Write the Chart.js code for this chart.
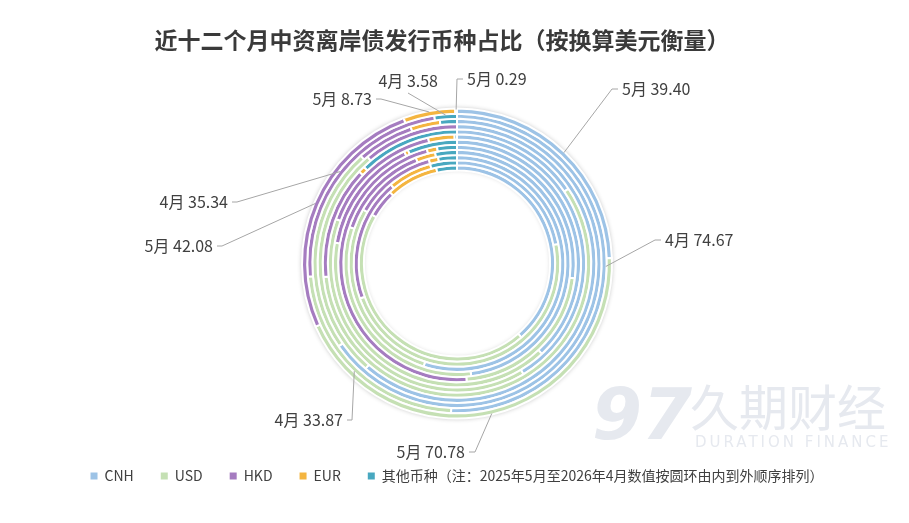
<!DOCTYPE html>
<html>
<head>
<meta charset="utf-8">
<script src="https://cdn.jsdelivr.net/npm/chart.js@4.4.1/dist/chart.umd.min.js"></script>
<style>
  html, body { margin: 0; padding: 0; background: #fff; }
  #wrap { width: 909px; height: 523px; }
</style>
</head>
<body>
<div id="wrap"><canvas id="chart" width="909" height="523"></canvas></div>
<script>
// rings from outer to inner
const months = ['5月', '4月', '3月', '2月', '1月', '12月', '11月', '10月', '9月', '8月', '7月', '6月'];
const currencies = ['CNH', 'USD', 'HKD', 'EUR', '其他币种'];
const note = '（注：2025年5月至2026年4月数值按圆环由内到外顺序排列）';

const cnh   = [39.40, 74.67, 65.3, 61.4, 15.6, 41.4, 38.0, 27.0, 48.0, 55.0, 22.0, 38.6];
const usd   = [70.78, 33.87, 23.1, 27.5, 57.8, 39.2, 39.7, 21.7, 32.2, 28.3, 47.5, 44.7];
const hkd   = [42.08, 35.34,  6.4, 11.1, 13.6, 15.8, 15.3, 47.2, 13.9, 12.5, 19.4,  4.7];
const eur   = [ 8.73,  0.00,  3.3,  0.0,  0.8,  3.3,  0.5,  1.4,  2.8,  1.4,  6.9,  8.6];
const other = [ 0.29,  3.58,  1.9,  0.0, 12.2,  0.3,  6.5,  2.7,  3.1,  2.8,  4.2,  3.4];

const colors = ['#9dc3e6', '#c5e0b4', '#a57cc0', '#f4b540', '#48a8c0'];
const FONT = '"Noto Sans CJK SC", "Noto Sans", sans-serif';

Chart.defaults.font.family = FONT;

// labels for the two outer rings: dataset, slice, text position, leader start
const callouts = [
  { ds: 0, i: 0, x: 622, y: 89,  align: 'left',  from: [618, 89],  elbow: [612, 89] },
  { ds: 1, i: 0, x: 665, y: 240, align: 'left',  from: [661, 240], elbow: [655, 240] },
  { ds: 0, i: 1, x: 465, y: 452, align: 'right', from: [469, 452], elbow: [475, 452] },
  { ds: 1, i: 1, x: 343, y: 420, align: 'right', from: [347, 420], elbow: [352, 420] },
  { ds: 0, i: 2, x: 213, y: 246, align: 'right', from: [217, 246], elbow: [222, 246] },
  { ds: 1, i: 2, x: 228, y: 202, align: 'right', from: [232, 202], elbow: [237, 202] },
  { ds: 0, i: 3, x: 372, y: 99,  align: 'right', from: [376, 99],  elbow: [381, 99] },
  { ds: 1, i: 4, x: 438, y: 81,  align: 'right', from: [408, 93],  elbow: [408, 93] },
  { ds: 0, i: 4, x: 467, y: 79,  align: 'left',  from: [463, 79],  elbow: [457, 79] }
];

const series = [cnh, usd, hkd, eur, other];
const datasets = months.map((m, r) => ({
  label: m,
  data: series.map(s => s[r]),
  backgroundColor: colors,
  borderColor: '#fff',
  borderWidth: 2
}));

const decor = {
  id: 'decor',
  beforeDraw(chart) {
    const ctx = chart.ctx;
    ctx.save();
    // watermark
    ctx.fillStyle = '#e6e9ef';
    ctx.font = 'italic bold 72px "DejaVu Sans"';
    ctx.textAlign = 'center';
    ctx.textBaseline = 'middle';
    ctx.fillText('97', 642, 420);
    ctx.font = '49px ' + FONT;
    ctx.textAlign = 'left';
    ctx.fillText('久期财经', 690, 407);
    ctx.font = '15px "DejaVu Sans"';
    ctx.letterSpacing = '3px';
    ctx.fillText('DURATION FINANCE', 695, 443);
    ctx.restore();
  },
  beforeDatasetsDraw(chart) {
    const ctx = chart.ctx;
    const outer = chart.getDatasetMeta(0).data[0];
    const inner = chart.getDatasetMeta(months.length - 1).data[0];
    const { x, y } = outer;
    ctx.save();
    ctx.shadowColor = 'rgba(0,0,0,0.3)';
    ctx.shadowBlur = 5;
    ctx.fillStyle = '#fff';
    ctx.beginPath();
    ctx.arc(x, y, outer.outerRadius, 0, Math.PI * 2);
    ctx.fill();
    ctx.restore();
    // soft shadow inside the hole
    ctx.save();
    ctx.beginPath();
    ctx.arc(x, y, inner.innerRadius, 0, Math.PI * 2);
    ctx.clip();
    ctx.shadowColor = 'rgba(0,0,0,0.25)';
    ctx.shadowBlur = 5;
    ctx.strokeStyle = '#fff';
    ctx.lineWidth = 6;
    ctx.beginPath();
    ctx.arc(x, y, inner.innerRadius + 4, 0, Math.PI * 2);
    ctx.stroke();
    ctx.restore();
  },
  afterDraw(chart) {
    const ctx = chart.ctx;
    ctx.save();
    ctx.fillStyle = '#3a3a3a';
    ctx.font = 'bold 23px ' + FONT;
    ctx.textAlign = 'center';
    ctx.textBaseline = 'middle';
    ctx.fillText('近十二个月中资离岸债发行币种占比（按换算美元衡量）', 442, 40);

    ctx.font = '16px ' + FONT;
    ctx.strokeStyle = '#a6a6a6';
    ctx.lineWidth = 1;
    callouts.forEach(c => {
      const arc = chart.getDatasetMeta(c.ds).data[c.i];
      const mid = (arc.startAngle + arc.endAngle) / 2;
      const ax = arc.x + Math.cos(mid) * (arc.outerRadius - 1);
      const ay = arc.y + Math.sin(mid) * (arc.outerRadius - 1);
      ctx.beginPath();
      ctx.moveTo(c.from[0], c.from[1]);
      ctx.lineTo(c.elbow[0], c.elbow[1]);
      ctx.lineTo(ax, ay);
      ctx.stroke();
      const val = series[c.i][c.ds];
      ctx.fillStyle = '#404040';
      ctx.textAlign = c.align;
      ctx.fillText(months[c.ds] + ' ' + val.toFixed(2), c.x, c.y);
    });
    ctx.restore();
  }
};

new Chart(document.getElementById('chart'), {
  type: 'doughnut',
  data: { labels: currencies, datasets },
  options: {
    responsive: false,
    animation: false,
    events: [],
    cutout: '60%',
    radius: 155,
    layout: { padding: { top: 85, left: 5, right: 0, bottom: 30 } },
    plugins: {
      legend: {
        position: 'bottom',
        labels: {
          boxWidth: 7,
          boxHeight: 7,
          padding: 27,
          color: '#404040',
          font: { size: 14 },
          generateLabels(chart) {
            const items = Chart.overrides.doughnut.plugins.legend.labels.generateLabels(chart);
            items.forEach(it => { it.lineWidth = 0; it.strokeStyle = it.fillStyle; });
            items[items.length - 1].text += note;
            return items;
          }
        }
      },
      tooltip: { enabled: false }
    }
  },
  plugins: [decor]
});
</script>
</body>
</html>
